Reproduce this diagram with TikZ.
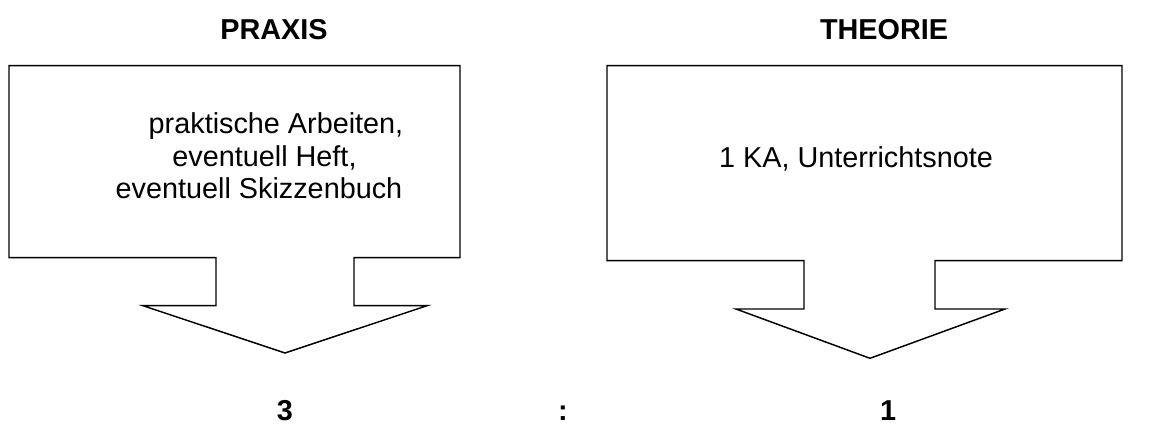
\documentclass[tikz,border=0pt]{standalone}
\usepackage{fontspec}
\setmainfont{Liberation Sans}
\begin{document}
\begin{tikzpicture}[x=0.75pt,y=-0.75pt,
  callout/.style={draw=black,line width=1.1pt,line join=miter},
  bodytext/.style={font=\fontsize{21.6}{25}\selectfont,inner sep=0pt,anchor=base},
  headtext/.style={font=\fontsize{21.6}{25}\selectfont\bfseries,inner sep=0pt,anchor=base},
]
\useasboundingbox (0,0) rectangle (1175,443);
% left callout
\draw[callout] (9,65.7) -- (460,65.7) -- (460,257.7) -- (354,257.7) -- (354,305.7)
  -- (427,305.7) -- (285,353) -- (143,305.7) -- (216,305.7) -- (216,257.7)
  -- (9,257.7) -- cycle;
% right callout
\draw[callout] (607,65.7) -- (1122,65.7) -- (1122,260.7) -- (935,260.7) -- (935,309)
  -- (1005,309) -- (870,358.3) -- (736,309) -- (804,309) -- (804,260.7)
  -- (607,260.7) -- cycle;
% titles
\node[headtext] (praxis) at (274,39) {PRAXIS};
\node[headtext] (theorie) at (884,39) {THEORIE};
% texts
\node[bodytext] (l1) at (276,133) {praktische Arbeiten,};
\node[bodytext] (l2) at (264.5,166) {eventuell Heft,};
\node[bodytext] (l3) at (259,198) {eventuell Skizzenbuch};
\node[bodytext] (r1) at (856,167) {1 KA, Unterrichtsnote};
% ratio
\node[headtext] (three) at (285,420) {3};
\node[headtext] (colon) at (563,420) {:};
\node[headtext] (one) at (888,420) {1};
\end{tikzpicture}
\end{document}
